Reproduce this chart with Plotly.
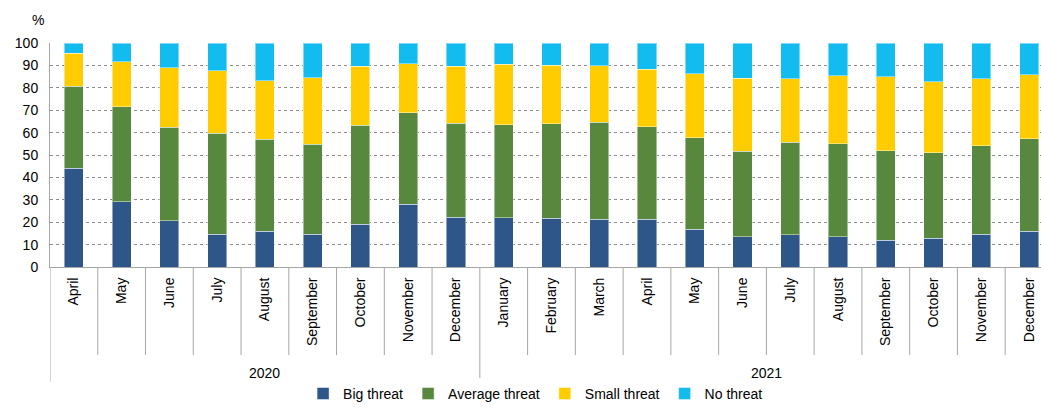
import plotly.graph_objects as go

months = ["April", "May", "June", "July", "August", "September", "October", "November", "December",
          "January", "February", "March", "April", "May", "June", "July", "August", "September",
          "October", "November", "December"]
years = ["2020"] * 9 + ["2021"] * 12

big = [44.1, 29.1, 20.7, 14.7, 15.9, 14.7, 19.0, 28.1, 22.3,
       22.0, 21.7, 21.4, 21.4, 16.8, 13.4, 14.4, 13.4, 12.0, 12.9, 14.7, 16.0]
average = [36.6, 42.5, 41.6, 45.0, 41.2, 40.1, 44.2, 40.8, 41.9,
           41.6, 42.3, 43.2, 41.3, 41.0, 38.3, 41.3, 41.7, 40.0, 38.2, 39.5, 41.2]
small = [14.7, 20.1, 26.7, 28.0, 26.0, 29.6, 26.4, 21.9, 25.5,
         27.0, 26.0, 25.3, 25.6, 28.4, 32.5, 28.3, 30.2, 33.0, 31.5, 29.9, 28.7]
none_ = [4.6, 8.3, 11.0, 12.3, 16.9, 15.6, 10.4, 9.2, 10.3,
         9.4, 10.0, 10.1, 11.7, 13.8, 15.8, 16.0, 14.7, 15.0, 17.4, 15.9, 14.1]

series = [("Big threat", big, "#2E5689"),
          ("Average threat", average, "#58883D"),
          ("Small threat", small, "#FFCC00"),
          ("No threat", none_, "#12BCEE")]

idx = list(range(len(months)))
font = "Liberation Sans, Arial, sans-serif"

fig = go.Figure()
for name, vals, col in series:
    fig.add_trace(go.Bar(x=idx, y=vals, name=name, width=0.4,
                         marker=dict(color=col, line=dict(color="rgba(255,255,255,0.45)", width=1))))

shapes = []
gray = "#A6A6A6"
# left boundary
shapes.append(dict(type="line", xref="x", yref="paper", x0=-0.5, x1=-0.5, y0=0, y1=-0.513,
                   line=dict(color=gray, width=1)))
for i in range(len(months) - 1):
    yb = -0.513 if years[i] != years[i + 1] else -0.393
    shapes.append(dict(type="line", xref="x", yref="paper", x0=i + 0.5, x1=i + 0.5, y0=0, y1=yb,
                       line=dict(color=gray, width=1)))

annotations = []
for yr in ["2020", "2021"]:
    ids = [i for i, y in enumerate(years) if y == yr]
    annotations.append(dict(x=sum(ids) / len(ids), y=-0.473, xref="x", yref="paper", text=yr,
                            showarrow=False, yanchor="middle", font=dict(size=14, color="#000", family=font)))
annotations.append(dict(x=-0.012, y=1.103, xref="paper", yref="paper", text="%", showarrow=False,
                        xanchor="center", yanchor="middle", font=dict(size=14, color="#000", family=font)))

fig.update_layout(
    barmode="stack",
    width=1041, height=410,
    margin=dict(l=50, r=0, t=43, b=143),
    plot_bgcolor="white", paper_bgcolor="white",
    font=dict(family=font, size=14, color="#000"),
    shapes=shapes, annotations=annotations,
    legend=dict(orientation="h", x=0.49, xanchor="center", y=-0.638, yanchor="bottom",
                traceorder="normal", font=dict(size=14, family=font), itemwidth=30,
                tracegroupgap=0),
    xaxis=dict(range=[-0.5, 20.25], tickmode="array", tickvals=idx, ticktext=months, tickangle=-90,
               showgrid=False, showline=True, linecolor=gray, linewidth=1, ticks="",
               tickfont=dict(size=14, family=font), ticklabelstandoff=4, zeroline=False),
    yaxis=dict(range=[0, 100], dtick=10, showgrid=True, gridcolor="#8C8C8C", griddash="dot",
               gridwidth=1, showline=True, linecolor=gray, linewidth=1, ticks="",
               tickfont=dict(size=14, family=font), ticklabelstandoff=8, zeroline=False),
)

fig.write_html("out.html")
